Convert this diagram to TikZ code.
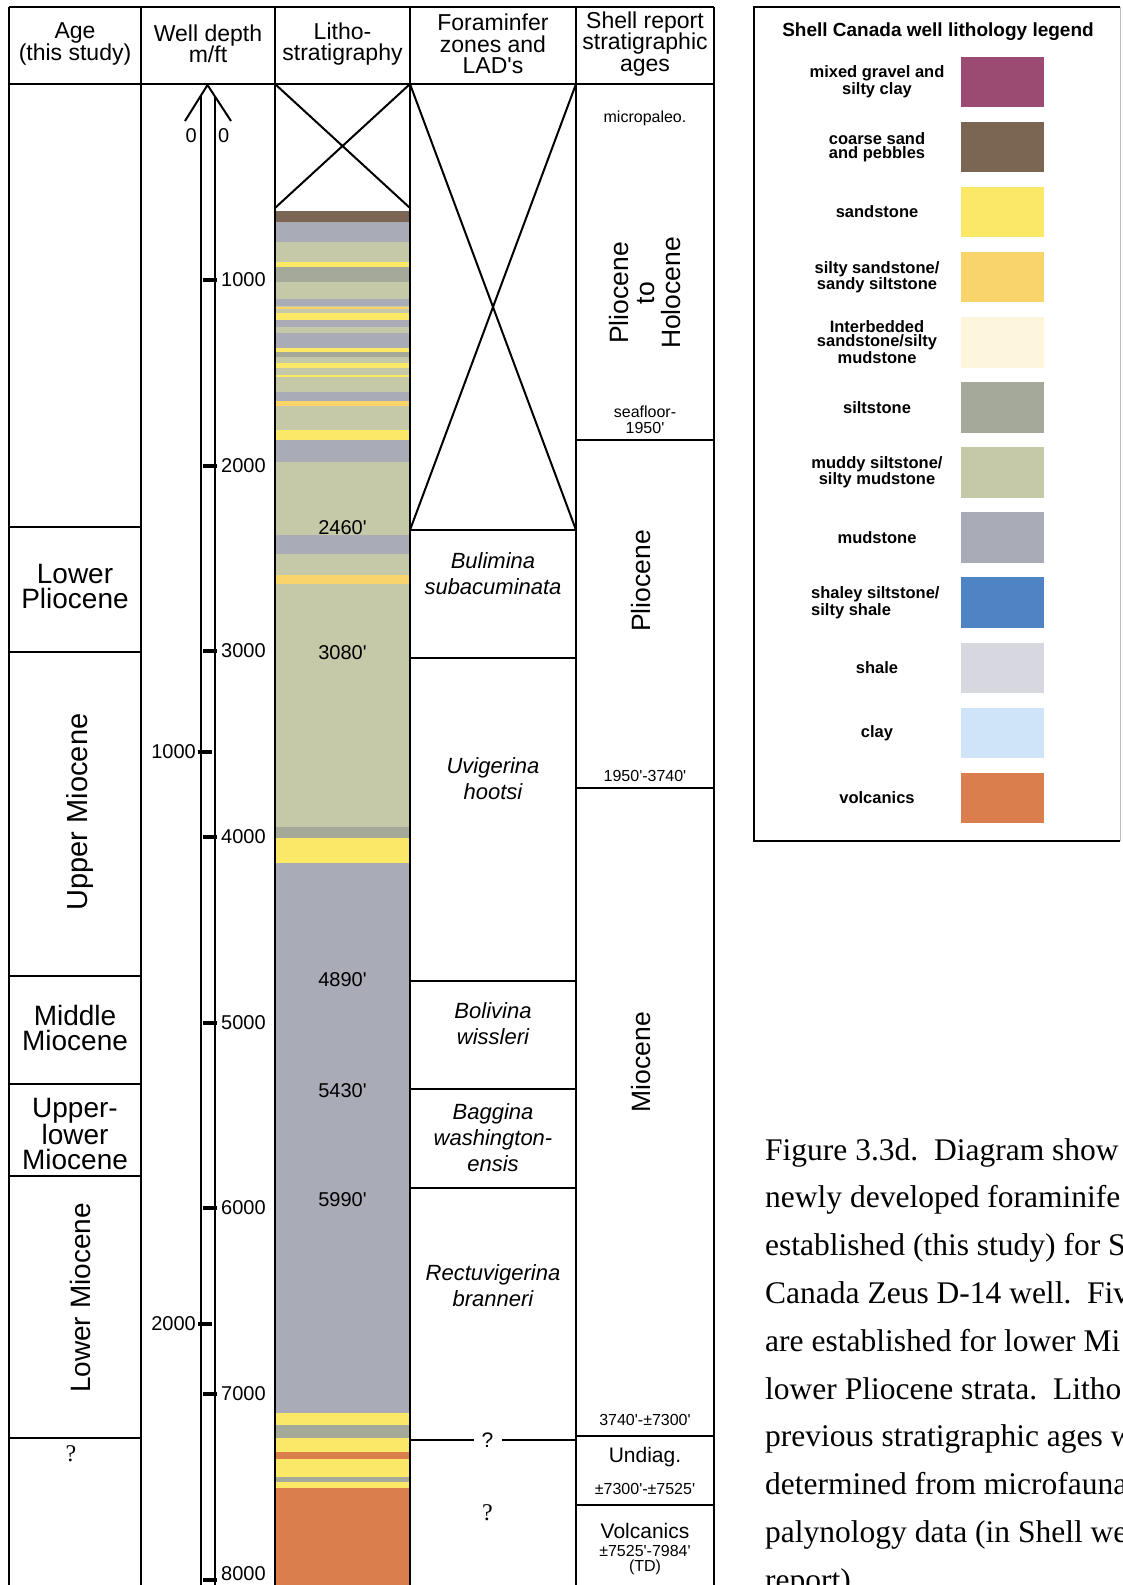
\documentclass[tikz,border=0pt]{standalone}
\usepackage{fontspec}
\setmainfont{Liberation Sans}[Ligatures=TeXOff]
\newfontfamily\seriffam{Liberation Serif}[Ligatures=TeXOff]
\definecolor{cGravel}{HTML}{9B4A72}
\definecolor{cCoarse}{HTML}{7A6652}
\definecolor{cSand}{HTML}{FBE866}
\definecolor{cSiltySand}{HTML}{F9D46A}
\definecolor{cInterb}{HTML}{FDF6DC}
\definecolor{cSilt}{HTML}{A4A999}
\definecolor{cMuddy}{HTML}{C6C9A7}
\definecolor{cMud}{HTML}{A9ABB7}
\definecolor{cShaley}{HTML}{4F84C4}
\definecolor{cShale}{HTML}{D7D8DF}
\definecolor{cClay}{HTML}{CFE3F9}
\definecolor{cVolc}{HTML}{DA7E4E}
\begin{document}
\begin{tikzpicture}[x=1pt,y=-1pt,
  rule/.style={line width=2pt},
  hdr/.style={align=center,font=\fontsize{23}{21.5}\selectfont,inner sep=0pt},
  agetxt/.style={align=center,font=\fontsize{28}{25}\selectfont,inner sep=0pt},
  zone/.style={align=center,font=\fontsize{22}{26}\selectfont\itshape,inner sep=0pt},
  dlbl/.style={font=\fontsize{20}{20}\selectfont,inner sep=0pt},
  small/.style={align=center,font=\fontsize{16}{15.5}\selectfont,inner sep=0pt},
  mid/.style={align=center,font=\fontsize{21}{21}\selectfont,inner sep=0pt},
  big/.style={align=center,font=\fontsize{26.5}{26}\selectfont,inner sep=0pt},
  leg/.style={align=center,font=\fontsize{16.5}{14}\selectfont\bfseries,inner sep=0pt},
  qmark/.style={font=\fontsize{24}{24}\selectfont\seriffam,inner sep=0pt},
  capline/.style={font=\fontsize{31.5}{31.5}\selectfont\seriffam,anchor=base west,inner sep=0pt},
  tick/.style={line width=4pt},
]
\useasboundingbox (0,0) rectangle (1122,1585);
\fill[white] (0,0) rectangle (1122,1585);

% ---------- lithology column fill ----------
\foreach \a/\b/\c in {
210.5/221.7/cCoarse, 221.7/241.7/cMud, 241.7/261.7/cMuddy, 261.7/267.3/cSand,
267.3/281.7/cSilt, 281.7/299.3/cMuddy, 299.3/306/cMud, 306/312.7/cMuddy,
307/309/cSiltySand, 312.7/320/cSand, 320/327.3/cMud, 327.3/332.7/cMuddy,
332.7/348/cMud, 348/352.3/cSand, 352.3/356.7/cSilt, 356.7/363.3/cMuddy,
363.3/368.3/cSand, 368.3/375/cMuddy, 375/377.3/cSand, 377.3/391.7/cMuddy,
391.7/400.7/cMud, 400.7/405.5/cSiltySand, 405.5/430/cMuddy, 430/440/cSand,
440/461.7/cMud, 461.7/535/cMuddy, 535/554/cMud, 554/575/cMuddy,
575/584/cSiltySand, 584/826.7/cMuddy, 826.7/838.3/cSilt, 838.3/863.3/cSand,
863.3/1413/cMud, 1413/1425/cSand, 1425/1438/cSilt, 1438/1452/cSand,
1452/1459/cVolc, 1459/1477/cSand, 1477/1482/cSilt, 1482/1488/cSand,
1488/1585/cVolc}
  \fill[\c] (275,\a) rectangle (410,\b);

% ---------- table frame ----------
\draw[rule] (9,7) -- (714,7);
\draw[rule] (9,84) -- (714,84);
\foreach \x in {9,140.5,275,410,576,714}
  \draw[rule] (\x,7) -- (\x,1585);
% age column
\foreach \y in {527,652,975.5,1083.6,1176,1438}
  \draw[rule] (9,\y) -- (140.5,\y);
% litho cross
\draw[rule] (275,84) -- (410,208);
\draw[rule] (410,84) -- (275,208);
% foram cross and zones
\draw[rule] (410,84) -- (576,530);
\draw[rule] (576,84) -- (410,530);
\foreach \y in {530,658,981,1088.6,1188}
  \draw[rule] (410,\y) -- (576,\y);
\node[font=\fontsize{21}{21}\selectfont,inner sep=0pt] (fq) at (487.5,1440) {?};
\coordinate (fqL) at (410,1440);
\coordinate (fqR) at (576,1440);
\draw[rule] (fqL) -- ([xshift=-14pt]fq.center);
\draw[rule] ([xshift=14pt]fq.center) -- (fqR);
% shell column
\foreach \y in {440,788,1436,1505}
  \draw[rule] (576,\y) -- (714,\y);

% ---------- headers ----------
\node[hdr] (h1) at (75,44) {Age\\(this study)};
\node[hdr] (h2) at (208,44) {Well depth\\m/ft};
\node[hdr] (h3) at (342.5,44) {Litho-\\stratigraphy};
\node[hdr] (h4) at (493,44) {Foraminfer\\zones and\\LAD's};
\node[hdr] (h5) at (645,44) {Shell report\\stratigraphic\\ages};

% ---------- age column ----------
\node[agetxt] (a1) at (75,586) {Lower\\Pliocene};
\node[agetxt,rotate=90,font=\fontsize{29}{25}\selectfont] (a2) at (80,812) {Upper Miocene};
\node[agetxt] (a3) at (75,1028) {Middle\\Miocene};
\node[agetxt] (a4) at (75,1134) {Upper-\\lower\\Miocene};
\node[agetxt,rotate=90] (a5) at (80,1298) {Lower Miocene};
\node[qmark] (a6) at (71,1454) {?};

% ---------- depth scale ----------
\coordinate (apex) at (207.5,85);
\coordinate (armL) at (185,121);
\coordinate (armR) at (231,121);
\draw[line width=2pt,line join=miter] (armL) -- (apex) -- (armR);
\coordinate (tubeLt) at (200.5,96.2);
\coordinate (tubeRt) at (214.5,96.2);
\coordinate (tubeLb) at (200.5,1585);
\coordinate (tubeRb) at (214.5,1585);
\draw[rule] (tubeLt) -- (tubeLb);
\draw[rule] (tubeRt) -- (tubeRb);
\node[dlbl,anchor=east] (z1) at (197,136) {0};
\node[dlbl,anchor=west] (z2) at (218,136) {0};
\foreach \f/\y/\ly in {1000/280/280,2000/466/466,3000/651/651,4000/837/837,5000/1023/1023,6000/1208/1208,7000/1394/1394,8000/1580/1574}{
  \draw[tick] (203,\y) -- (217,\y);
  \node[dlbl,anchor=west] (ft\f) at (221,\ly) {\f};
}
\foreach \m/\y in {1000/752,2000/1324}{
  \draw[tick] (198,\y) -- (212,\y);
  \node[dlbl,anchor=east] (m\m) at (196,\y) {\m};
}

% ---------- litho labels ----------
\node[dlbl] (l1) at (342.5,528) {2460'};
\node[dlbl] (l2) at (342.5,653) {3080'};
\node[dlbl] (l3) at (342.5,980) {4890'};
\node[dlbl] (l4) at (342.5,1091) {5430'};
\node[dlbl] (l5) at (342.5,1200) {5990'};

% ---------- foram zones ----------
\node[zone] (f1) at (493,574) {Bulimina\\subacuminata};
\node[zone] (f2) at (493,779) {Uvigerina\\hootsi};
\node[zone] (f3) at (493,1024) {Bolivina\\wissleri};
\node[zone] (f4) at (493,1138) {Baggina\\washington-\\ensis};
\node[zone] (f5) at (493,1286) {Rectuvigerina\\branneri};
\node[qmark] (f6) at (487.5,1513) {?};

% ---------- shell column ----------
\node[small] (s1) at (645,118) {micropaleo.};
\node[big,rotate=90] (s2) at (645,293) {Pliocene\\to\\Holocene};
\node[small] (s3) at (645,420) {seafloor-\\1950'};
\node[big,rotate=90] (s4) at (641,581) {Pliocene};
\node[small] (s5) at (645,776) {1950'-3740'};
\node[big,rotate=90] (s6) at (641,1062) {Miocene};
\node[small] (s7) at (645,1420) {3740'-\textpm7300'};
\node[mid] (s8) at (645,1457) {Undiag.};
\node[small] (s9) at (645,1489) {\textpm7300'-\textpm7525'};
\node[mid] (s10) at (645,1531) {Volcanics};
\node[small] (s11) at (645,1560) {\textpm7525'-7984'\\(TD)};

% ---------- legend ----------
\draw[rule] (1120,7) -- (754,7) -- (754,841) -- (1120,841);
\draw[line width=0.8pt,black!25] (1120,7) -- (1120,841);
\node[font=\fontsize{19}{19}\selectfont\bfseries,inner sep=0pt] (lt) at (938,32) {Shell Canada well lithology legend};
\foreach \i/\c/\t in {
 0/cGravel/{mixed gravel and\\silty clay},
 1/cCoarse/{coarse sand\\and pebbles},
 2/cSand/{sandstone},
 3/cSiltySand/{silty sandstone/\\sandy siltstone},
 4/cInterb/{Interbedded\\sandstone/silty\\mudstone},
 5/cSilt/{siltstone},
 6/cMuddy/{muddy siltstone/\\silty mudstone},
 7/cMud/{mudstone},
 9/cShale/{shale},
 10/cClay/{clay},
 11/cVolc/{volcanics}}{
  \fill[\c] (961,56.6+65.1*\i) rectangle (1044,107.1+65.1*\i);
  \node[leg] (lg\i) at (877,81.8+65.1*\i) {\t};
}
\fill[cShaley] (961,56.6+65.1*8) rectangle (1044,107.1+65.1*8);
\node[leg,align=left,anchor=west] (lg8) at (811,81.8+65.1*8) {shaley siltstone/\\silty shale};

% ---------- caption ----------
\node[capline] (c1) at (765,1160) {Figure 3.3d.\ \ Diagram show};
\node[capline] (c2) at (765,1207.8) {newly developed foraminife};
\node[capline] (c3) at (765,1255.6) {established (this study) for S};
\node[capline] (c4) at (765,1303.4) {Canada Zeus D-14 well.\ \ Fiv};
\node[capline] (c5) at (765,1351.2) {are established for lower Mi};
\node[capline] (c6) at (765,1399) {lower Pliocene strata.\ \ Litho};
\node[capline] (c7) at (765,1446.8) {previous stratigraphic ages w};
\node[capline] (c8) at (765,1494.6) {determined from microfauna};
\node[capline] (c9) at (765,1542.4) {palynology data (in Shell we};
\node[capline] (c10) at (765,1590.2) {report).};
\end{tikzpicture}
\end{document}
